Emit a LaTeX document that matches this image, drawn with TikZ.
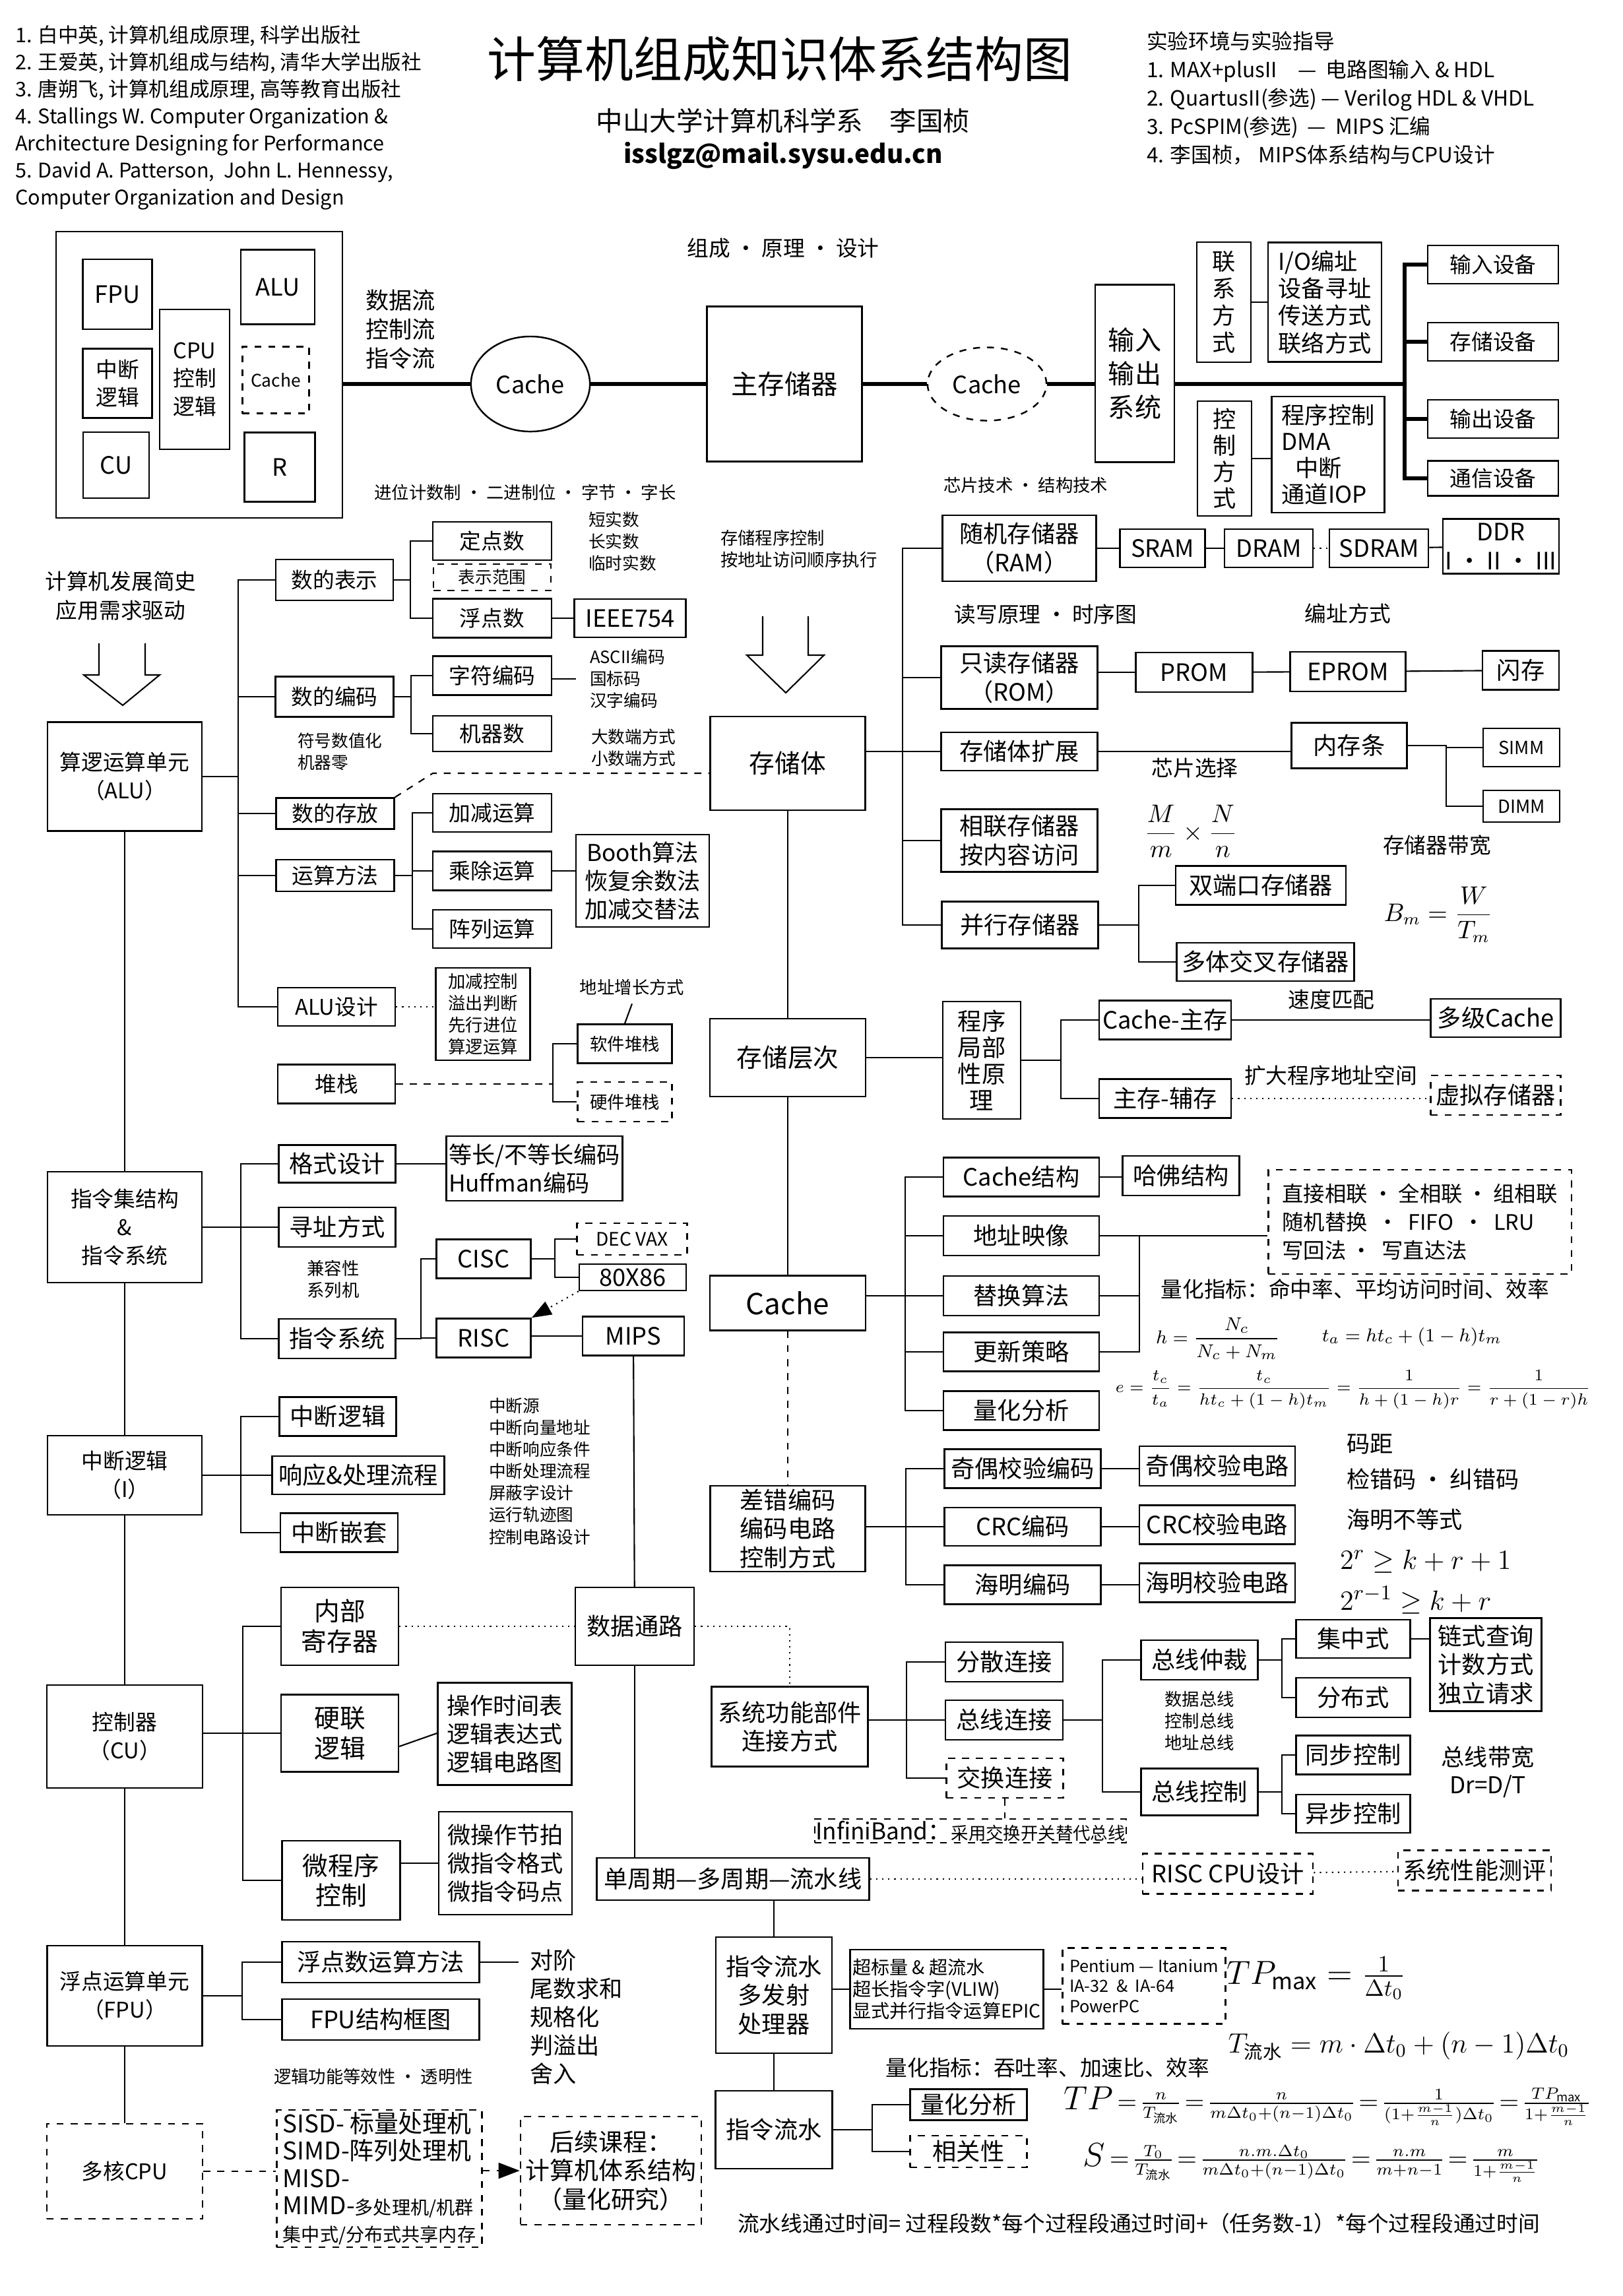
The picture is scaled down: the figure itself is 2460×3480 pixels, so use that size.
\documentclass[tikz,border=0pt]{standalone}
\usepackage{amsmath,amssymb}
\usepackage{fontspec}
\setmainfont{Noto Sans CJK SC}
\usetikzlibrary{shapes.geometric, arrows.meta}

\begin{document}
\begin{tikzpicture}[x=0.01cm, y=-0.01cm, line width=0.6pt,
    box/.style={draw, line width=0.7pt, align=center, inner sep=1pt, font=\fontsize{9.3}{12.2}\selectfont},
    dbox/.style={box, dashed},
    wd/.style={minimum width=#1cm},
    ht/.style={minimum height=#1cm},
    lbl/.style={align=center, inner sep=0pt, font=\fontsize{9.3}{12.2}\selectfont},
    note/.style={align=left, inner sep=0pt, font=\fontsize{7.3}{9.4}\selectfont},
    big/.style={font=\fontsize{10.3}{12.4}\selectfont},
    bus/.style={line width=1.8pt}]
\useasboundingbox (0,0) rectangle (2460,3480);

% header
\node[note, anchor=north west, font=\fontsize{8.7}{11.7}\selectfont] (refs) at (22,37)
    {1. 白中英, 计算机组成原理, 科学出版社\\2. 王爱英, 计算机组成与结构, 清华大学出版社\\3. 唐朔飞, 计算机组成原理, 高等教育出版社\\4. Stallings W. Computer Organization \&\\Architecture Designing for Performance\\5. David A. Patterson,\ \ John L. Hennessy,\\Computer Organization and Design};
\node[lbl, font=\fontsize{21}{24}\selectfont] (title) at (1182,89) {计算机组成知识体系结构图};
\node[lbl, font=\fontsize{11.5}{14}\selectfont] (school) at (1187,183) {中山大学计算机科学系\quad 李国桢};
\node[lbl, font=\fontsize{11}{14}\selectfont\bfseries] (mail) at (1187,236) {isslgz@mail.sysu.edu.cn};
\node[note, anchor=north west, font=\fontsize{9}{12.2}\selectfont] (lab) at (1737,47)
    {实验环境与实验指导\\1. MAX+plusII\quad — \ 电路图输入 \& HDL\\2. QuartusII(参选) — Verilog HDL \& VHDL\\3. PcSPIM(参选)\ \ — \ MIPS 汇编\\4. 李国桢，\ MIPS体系结构与CPU设计};
\node[lbl] (design) at (1187,376) {组成 • 原理 • 设计};

% CPU block and bus
\node[box, wd=4.34, ht=4.34] (cpu) at (302,568) {};
\node[box, wd=1.05, ht=1.06, big] (fpu0) at (178,446) {FPU};
\node[box, wd=1.05, ht=1.05] (intl0) at (178,581) {中断\\逻辑};
\node[box, wd=1.0, ht=1.0, big] (cu0) at (176,705) {CU};
\node[box, wd=1.06, ht=2.12] (ctl0) at (295,575) {CPU\\控制\\逻辑};
\node[box, wd=1.12, ht=1.13, big] (alu0) at (421,435) {ALU};
\node[dbox, wd=1.01, ht=1.01, font=\fontsize{7.5}{9}\selectfont] (cache0) at (418,576) {Cache};
\node[box, wd=1.07, ht=1.05, big] (reg0) at (424,708) {R};
\node[lbl, font=\fontsize{10}{12.5}\selectfont] (flows) at (607,499) {数据流\\控制流\\指令流};
\node[draw, ellipse, line width=0.7pt, wd=1.78, ht=1.44, big] (cachea) at (804,582) {Cache};
\node[box, wd=2.35, ht=2.35, font=\fontsize{11.5}{14}\selectfont] (mainmem) at (1189,582) {主存储器};
\node[draw, dashed, ellipse, line width=0.7pt, wd=1.41, ht=1.11, big] (cacheb) at (1496,582) {Cache};
\node[box, wd=1.2, ht=2.69, font=\fontsize{11.4}{14.5}\selectfont] (iosys) at (1720,566) {输入\\输出\\系统};
\node[box, wd=0.82, ht=1.82, font=\fontsize{10}{11.7}\selectfont] (lianxi) at (1855,458) {联\\系\\方\\式};
\node[box, wd=1.72, ht=1.81, align=left, font=\fontsize{10}{11.7}\selectfont] (ioaddr) at (2008,458) {I/O编址\\设备寻址\\传送方式\\联络方式};
\node[box, wd=0.82, ht=1.74, font=\fontsize{10}{11.4}\selectfont] (kongzhi) at (1856,695) {控\\制\\方\\式};
\node[box, wd=1.71, ht=1.76, align=left, font=\fontsize{10}{11.4}\selectfont] (prog) at (2013,689) {程序控制\\DMA\\\hspace{0.6em}中断\\通道IOP};
\node[box, wd=1.98, ht=0.58] (dev1) at (2263,401) {输入设备};
\node[box, wd=1.98, ht=0.58] (dev2) at (2263,518) {存储设备};
\node[box, wd=1.98, ht=0.58] (dev3) at (2263,635) {输出设备};
\node[box, wd=1.98, ht=0.53] (dev4) at (2263,725) {通信设备};
\coordinate (iot) at (2129,582);
\draw[bus] (cpu.east |- cachea.west) -- (cachea.west);
\draw[bus] (cachea) -- (mainmem);
\draw[bus] (mainmem) -- (cacheb);
\draw[bus] (cacheb.east) -- (cacheb.east -| iosys.west);
\draw[bus] (iosys.east |- iot) -- (iot);
\foreach \nm in {dev1,dev2,dev3,dev4} \draw[bus] (iot) |- (\nm.west);
\draw (lianxi) -- (ioaddr);
\draw (kongzhi.east) -- (kongzhi.east -| prog.west);

% left column: main units
\node[lbl, font=\fontsize{9.3}{12.5}\selectfont] (hist) at (183,903) {计算机发展简史\\应用需求驱动};
\draw (150,975) -- (150,1023) -- (127,1023) -- (186,1069) -- (242,1023) -- (220,1023) -- (220,975);
\node[box, wd=2.34, ht=1.65] (alu) at (189,1177) {算逻运算单元\\（ALU）};
\node[box, wd=2.34, ht=1.68] (isa) at (189,1860) {指令集结构\\\&\\指令系统};
\node[box, wd=2.34, ht=1.20] (intr) at (189,2236) {中断逻辑\\（I）};
\node[box, wd=2.36, ht=1.56] (cu) at (189,2632) {控制器\\（CU）};
\node[box, wd=2.35, ht=1.52] (fpu) at (189,3025) {浮点运算单元\\（FPU）};
\node[dbox, wd=2.36, ht=1.44] (mcore) at (189,3291) {多核CPU};
\draw (alu) -- (isa) -- (intr) -- (cu) -- (fpu) -- (mcore);

% ALU branch
\node[note, font=\fontsize{7.5}{9.4}\selectfont] (radix) at (796,746) {进位计数制 • 二进制位 • 字节 • 字长};
\node[box, wd=1.78, ht=0.62] (nrep) at (507,879) {数的表示};
\node[box, wd=1.79, ht=0.61] (ncode) at (507,1056) {数的编码};
\node[box, wd=1.79, ht=0.47] (nstore) at (508,1233) {数的存放};
\node[box, wd=1.79, ht=0.48] (nmeth) at (508,1327) {运算方法};
\node[box, wd=1.78, ht=0.58] (aludes) at (510,1526) {ALU设计};
\node[box, wd=1.78, ht=0.59] (stack) at (510,1643) {堆栈};
\node[note, anchor=west] (signz) at (450,1139) {符号数值化\\机器零};
\node[box, wd=1.80, ht=0.58] (fixp) at (746,820) {定点数};
\node[dbox, wd=1.78, ht=0.40, font=\fontsize{7.3}{9}\selectfont] (range) at (746,875) {表示范围};
\node[box, wd=1.80, ht=0.59] (flp) at (746,937) {浮点数};
\node[box, wd=1.69, ht=0.58, big] (ieee) at (955,937) {IEEE754};
\node[note, anchor=west] (reals) at (891,821) {短实数\\长实数\\临时实数};
\node[box, wd=1.80, ht=0.59] (chcode) at (746,1024) {字符编码};
\node[box, wd=1.80, ht=0.54] (machn) at (746,1112) {机器数};
\node[note, anchor=west] (ascii) at (893,1029) {ASCII编码\\国标码\\汉字编码};
\node[note, anchor=west] (endian) at (895,1133) {大数端方式\\小数端方式};
\node[box, wd=1.80, ht=0.58] (addsub) at (746,1232) {加减运算};
\node[box, wd=1.80, ht=0.59] (muldiv) at (746,1320) {乘除运算};
\node[box, wd=1.80, ht=0.58] (array) at (746,1408) {阵列运算};
\node[box, wd=2.02, ht=1.40, font=\fontsize{10}{12.2}\selectfont] (booth) at (974,1335) {Booth算法\\恢复余数法\\加减交替法};
\node[box, wd=1.43, ht=1.40, font=\fontsize{7.5}{9.4}\selectfont] (aluctl) at (732,1537) {加减控制\\溢出判断\\先行进位\\算逻运算};
\node[note, font=\fontsize{7.5}{9.4}\selectfont] (addrgrow) at (958,1496) {地址增长方式};
\node[box, wd=1.43, ht=0.59, font=\fontsize{7.5}{9.4}\selectfont] (swstack) at (947,1582) {软件堆栈};
\node[dbox, wd=1.43, ht=0.60, font=\fontsize{7.5}{9.4}\selectfont] (hwstack) at (947,1670) {硬件堆栈};
\coordinate (alut) at (361,1177);
\draw (alu.east) -- (alut);
\foreach \nm in {nrep,ncode,nstore,nmeth,aludes} \draw (alut) |- (\nm.west);
\draw (nrep.east) -- ++(25,0) coordinate (j1);
\draw (j1) |- (fixp.west);
\draw (j1) |- (flp.west);
\draw (flp) -- (ieee);
\draw (ncode.east) -- ++(25,0) coordinate (j2);
\draw (j2) |- (chcode.west);
\draw (j2) |- (machn.west);
\draw (chcode.east |- ascii.west) -- ++(36,0);
\draw (nmeth.east) -- ++(26,0) coordinate (j3);
\foreach \nm in {addsub,muldiv,array} \draw (j3) |- (\nm.west);
\draw (muldiv.east) -- (muldiv.east -| booth.west);
\draw[dotted] (aludes.east) -- (aludes.east -| aluctl.west);
\draw (swstack.west) -- ++(-36,0) coordinate (jst) |- (hwstack.west);
\draw[dashed] (stack.east) -- (stack.east -| jst);
\draw (addrgrow.south) ++(0,12) -- (swstack.north);

% memory column
\node[note, anchor=west, font=\fontsize{7.5}{9.4}\selectfont] (stprog) at (1091,832) {存储程序控制\\按地址访问顺序执行};
\draw (1156,934) -- (1156,993) -- (1132,993) -- (1191,1050) -- (1249,993) -- (1225,993) -- (1225,934);
\node[box, wd=2.35, ht=1.42, font=\fontsize{11}{13}\selectfont] (stor) at (1194,1157) {存储体};
\node[box, wd=2.36, ht=1.18, font=\fontsize{11}{13}\selectfont] (hier) at (1194,1603) {存储层次};
\node[box, wd=2.36, ht=0.83, font=\fontsize{12.5}{15}\selectfont] (cachem) at (1194,1975) {Cache};
\node[box, wd=2.35, ht=1.30, font=\fontsize{10.3}{12.4}\selectfont] (ecc) at (1194,2317) {差错编码\\编码电路\\控制方式};
\node[box, wd=2.37, ht=1.21, big] (sysbus) at (1197,2617) {系统功能部件\\连接方式};
\draw (stor) -- (hier) -- (cachem);
\draw[dashed] (cachem) -- (ecc);
\coordinate (dsj) at (656,1172);
\draw[dashed] (nstore.north east) -- (dsj) -- (dsj -| stor.west);

% memory body branch
\node[note, anchor=west, font=\fontsize{7.5}{9.4}\selectfont] (chiptech) at (1429,735) {芯片技术 • 结构技术};
\node[box, wd=2.33, ht=1.00, big] (ram) at (1545,831) {随机存储器\\（RAM）};
\node[box, wd=2.37, ht=0.95, big] (rom) at (1545,1027) {只读存储器\\（ROM）};
\node[box, wd=2.37, ht=0.58, big] (expand) at (1545,1139) {存储体扩展};
\node[box, wd=2.37, ht=0.95, big] (assoc) at (1545,1274) {相联存储器\\按内容访问};
\node[box, wd=2.37, ht=0.71, big] (para) at (1546,1402) {并行存储器};
\coordinate (memt) at (1368,1139);
\draw (stor.east |- expand.west) -- (expand.west);
\foreach \nm in {ram,rom,assoc,para} \draw (memt) |- (\nm.west);
\node[box, wd=1.29, ht=0.58, big] (sram) at (1762,831) {SRAM};
\node[box, wd=1.34, ht=0.58, big] (dram) at (1923,831) {DRAM};
\node[box, wd=1.50, ht=0.58, big] (sdram) at (2090,831) {SDRAM};
\node[box, wd=1.75, ht=0.83, big] (ddr) at (2275,828) {DDR\\I • II • III};
\draw (ram) -- (sram);
\draw (sram) -- (dram);
\draw[dotted] (dram) -- (sdram);
\draw (sdram) -- (ddr);
\node[lbl] (rwp) at (1585,931) {读写原理 • 时序图};
\node[lbl] (addrm) at (2043,930) {编址方式};
\node[box, wd=1.77, ht=0.60, big] (prom) at (1810,1019) {PROM};
\node[box, wd=1.75, ht=0.60, big] (eprom) at (2043,1018) {EPROM};
\node[box, wd=1.16, ht=0.59, big] (flash) at (2305,1016) {闪存};
\draw (rom.east |- prom.west) -- (prom.west);
\draw (prom) -- (eprom);
\draw (eprom) -- (flash);
\node[box, wd=1.75, ht=0.69, big] (dimmbox) at (2045,1130) {内存条};
\node[lbl] (chipsel) at (1811,1164) {芯片选择};
\node[box, wd=1.16, ht=0.58, font=\fontsize{7.8}{9.4}\selectfont] (simm) at (2306,1133) {SIMM};
\node[box, wd=1.16, ht=0.48, font=\fontsize{7.8}{9.4}\selectfont] (dimm) at (2306,1222) {DIMM};
\draw (expand.east) -- (expand.east -| dimmbox.west);
\draw (dimmbox.east) -- ++(58,0) coordinate (jm) |- (simm.west);
\draw (jm) |- (dimm.west);
\node[lbl, font=\fontsize{10.5}{12}\selectfont] (mnform) at (1805,1260) {$\dfrac{M}{m}\times\dfrac{N}{n}$};
\node[lbl] (bwtext) at (2178,1281) {存储器带宽};
\node[lbl, font=\fontsize{10.5}{12}\selectfont] (bmform) at (2180,1386) {$B_m=\dfrac{W}{T_m}$};
\node[box, wd=2.58, ht=0.59, big] (dual) at (1911,1342) {双端口存储器};
\node[box, wd=2.69, ht=0.58, big] (multi) at (1918,1458) {多体交叉存储器};
\draw (para.east) -- ++(60,0) coordinate (jp) |- (dual.west);
\draw (jp) |- (multi.west);

% memory hierarchy branch
\node[box, wd=1.18, ht=1.78, font=\fontsize{10.3}{11.4}\selectfont] (locality) at (1488,1607) {程序\\局部\\性原\\理};
\node[box, wd=2.00, ht=0.59, big] (cm) at (1766,1546) {Cache-主存};
\node[box, wd=2.00, ht=0.59, big] (ma) at (1766,1665) {主存-辅存};
\node[lbl] (speed) at (2018,1515) {速度匹配};
\node[box, wd=1.97, ht=0.58, big] (multic) at (2267,1543) {多级Cache};
\node[lbl] (enlarge) at (2017,1630) {扩大程序地址空间};
\node[dbox, wd=1.97, ht=0.60, big] (vmem) at (2267,1660) {虚拟存储器};
\draw (hier.east) -- (hier.east -| locality.west);
\draw (locality.east) -- ++(60,0) coordinate (jl) |- (cm.west);
\draw (jl) |- (ma.west);
\draw (cm.east) -- (cm.east -| multic.west);
\draw[dotted] (ma.east) -- (ma.east -| vmem.west);

% instruction set branch
\node[box, wd=1.77, ht=0.57, big] (fmt) at (511,1764) {格式设计};
\node[box, wd=1.77, ht=0.60, big] (addrmode) at (511,1860) {寻址方式};
\node[box, wd=1.77, ht=0.60, big] (instsys) at (511,2029) {指令系统};
\node[note, align=center, font=\fontsize{7.5}{9.6}\selectfont] (compat) at (505,1939) {兼容性\\系列机};
\node[box, wd=1.99, ht=0.98, align=left, font=\fontsize{10}{12.2}\selectfont] (huff) at (810,1771) {等长/不等长编码\\Huffman编码};
\node[box, wd=1.43, ht=0.59, big] (cisc) at (733,1908) {CISC};
\node[box, wd=1.43, ht=0.59, big] (risc) at (733,2028) {RISC};
\node[dbox, wd=1.67, ht=0.48, font=\fontsize{8}{9.4}\selectfont] (decvax) at (958,1878) {DEC VAX};
\node[box, wd=1.62, ht=0.40, big] (x86) at (959,1936) {80X86};
\node[box, wd=1.54, ht=0.59, big] (mips) at (960,2025) {MIPS};
\coordinate (isat) at (365,1860);
\draw (isa.east) -- (addrmode.west);
\draw (isat) |- (fmt.west);
\draw (isat) |- (instsys.west);
\draw (fmt.east) -- (fmt.east -| huff.west);
\draw (instsys.east) -- ++(37,0) coordinate (ji) |- (cisc.west);
\draw (ji) |- (risc.west);
\draw (cisc.east) -- ++(35,0) coordinate (jc) |- (decvax.west);
\draw (jc) |- (x86.west);
\draw (risc.east |- mips.west) -- (mips.west);
\draw[dotted, -{Triangle[length=3mm, width=2.2mm]}] (x86.south west) -- (risc.north east);

% interrupt branch
\node[box, wd=1.77, ht=0.59, big] (il) at (512,2147) {中断逻辑};
\node[box, wd=2.61, ht=0.58, big] (resp) at (543,2236) {响应\&处理流程};
\node[box, wd=1.78, ht=0.59, big] (nest) at (514,2323) {中断嵌套};
\node[note, anchor=north west, font=\fontsize{7.3}{9.4}\selectfont] (intlist) at (740,2118) {中断源\\中断向量地址\\中断响应条件\\中断处理流程\\屏蔽字设计\\运行轨迹图\\控制电路设计};
\coordinate (intt) at (365,2236);
\draw (intr.east) -- (resp.west);
\draw (intt) |- (il.west);
\draw (intt) |- (nest.west);

% controller branch
\node[box, wd=1.78, ht=1.18, font=\fontsize{11}{13}\selectfont] (inreg) at (515,2465) {内部\\寄存器};
\node[box, wd=1.78, ht=1.17, font=\fontsize{11}{13}\selectfont] (hard) at (515,2627) {硬联\\逻辑};
\node[box, wd=1.79, ht=1.20, font=\fontsize{11}{13}\selectfont] (micro) at (517,2850) {微程序\\控制};
\node[box, wd=2.03, ht=1.55, font=\fontsize{10}{12.2}\selectfont] (optab) at (765,2628) {操作时间表\\逻辑表达式\\逻辑电路图};
\node[box, wd=2.02, ht=1.56, font=\fontsize{10}{12.2}\selectfont] (microbox) at (766,2824) {微操作节拍\\微指令格式\\微指令码点};
\node[box, wd=1.80, ht=1.18, big] (dp) at (962,2465) {数据通路};
\coordinate (cut) at (368,2627);
\draw (cu.east |- hard.west) -- (hard.west);
\draw (cut) |- (inreg.west);
\draw (cut) |- (micro.west);
\draw (hard.east) ++(0,20) -- (hard.east -| optab.west) ++(0,20);
\draw (microbox.west -| micro.east) -- (microbox.west);
\draw (mips) -- (dp);
\draw[dotted] (inreg.east) -- (dp.west);
\draw[dotted] (dp.east) -| (sysbus.north);

% FPU branch
\node[box, wd=2.99, ht=0.62, big] (fpm) at (577,2974) {浮点数运算方法};
\node[box, wd=2.99, ht=0.62, big] (fpub) at (577,3061) {FPU结构框图};
\node[note, anchor=north west, font=\fontsize{10}{12.2}\selectfont] (steps) at (802,2954) {对阶\\尾数求和\\规格化\\判溢出\\舍入};
\node[note, font=\fontsize{7.5}{9.4}\selectfont] (equiv) at (566,3147) {逻辑功能等效性 • 透明性};
\draw (fpu.east) -- ++(59,0) coordinate (jf) |- (fpm.west);
\draw (jf) |- (fpub.west);
\draw (fpm.east) -- ++(58,0);

% multicore
\node[dbox, wd=3.11, ht=2.04, align=left, font=\fontsize{10.5}{11.7}\selectfont] (flynn) at (575,3302)
    {SISD- 标量处理机\\SIMD-阵列处理机\\MISD-\\MIMD-{\fontsize{8}{9}\selectfont 多处理机/机群}\\{\fontsize{8}{9}\selectfont 集中式/分布式共享内存}};
\node[dbox, wd=2.74, ht=1.64, font=\fontsize{10.5}{12.4}\selectfont] (follow) at (926,3290) {后续课程：\\计算机体系结构\\（量化研究）};
\draw[dashed] (mcore.east) -- (mcore.east -| flynn.west);
\draw[dashed, -{Triangle[length=3.2mm, width=2.4mm]}] (flynn.east |- follow.west) -- (follow.west);

% Cache branch
\node[box, wd=2.36, ht=0.59, big] (cstruct) at (1548,1784) {Cache结构};
\node[box, wd=2.36, ht=0.60, big] (amap) at (1548,1873) {地址映像};
\node[box, wd=2.36, ht=0.60, big] (repl) at (1548,1964) {替换算法};
\node[box, wd=2.36, ht=0.59, big] (upd) at (1548,2049) {更新策略};
\node[box, wd=2.36, ht=0.59, big] (qa) at (1548,2138) {量化分析};
\node[box, wd=1.77, ht=0.60, big] (harvard) at (1790,1782) {哈佛结构};
\node[dbox, wd=4.30, ht=1.46, align=left, inner sep=6pt, font=\fontsize{9.2}{12.2}\selectfont] (mapbox) at (2152,1852)
    {直接相联 • 全相联 • 组相联\\随机替换\ \ • \ FIFO \ • \ LRU\\写回法 • \ 写直达法};
\coordinate (ct) at (1372,1964);
\draw (cachem.east |- ct) -- (repl.west);
\foreach \nm in {cstruct,amap,upd,qa} \draw (ct) |- (\nm.west);
\draw (cstruct.east) -- (cstruct.east -| harvard.west);
\draw (amap.east) -- ++(60,0) coordinate (ja) -- (ja -| mapbox.west);
\draw (ja) |- (repl.east);
\draw (ja) |- (upd.east);
\node[lbl] (qmetric) at (2054,1954) {量化指标：命中率、平均访问时间、效率};
\node[lbl, font=\fontsize{8}{10}\selectfont] (hform) at (1846,2029) {$h=\dfrac{N_c}{N_c+N_m}$};
\node[lbl, font=\fontsize{8}{10}\selectfont] (taform) at (2140,2026) {$t_a=ht_c+(1-h)t_m$};
\node[lbl, font=\fontsize{7.5}{10}\selectfont] (eform) at (2051,2106) {$e=\dfrac{t_c}{t_a}=\dfrac{t_c}{ht_c+(1-h)t_m}=\dfrac{1}{h+(1-h)r}=\dfrac{1}{r+(1-r)h}$};

% error correction branch
\node[box, wd=2.37, ht=0.59, big] (parity) at (1550,2226) {奇偶校验编码};
\node[box, wd=2.37, ht=0.58, big] (crc) at (1550,2314) {CRC编码};
\node[box, wd=2.37, ht=0.59, big] (ham) at (1550,2402) {海明编码};
\node[box, wd=2.36, ht=0.60, big] (pc) at (1845,2222) {奇偶校验电路};
\node[box, wd=2.36, ht=0.59, big] (crcc) at (1845,2311) {CRC校验电路};
\node[box, wd=2.36, ht=0.59, big] (hamc) at (1845,2399) {海明校验电路};
\coordinate (et) at (1373,2314);
\draw (ecc.east |- crc.west) -- (crc.west);
\draw (et) |- (parity.west);
\draw (et) |- (ham.west);
\draw (parity.east) -- (parity.east -| pc.west);
\draw (crc.east) -- (crc.east -| crcc.west);
\draw (ham.east) -- (ham.east -| hamc.west);
\node[note, anchor=west, font=\fontsize{10}{12}\selectfont] (hd) at (2040,2189) {码距};
\node[note, anchor=west, font=\fontsize{10}{12}\selectfont] (ed) at (2040,2242) {检错码 • 纠错码};
\node[note, anchor=west, font=\fontsize{10}{12}\selectfont] (hineq) at (2040,2303) {海明不等式};
\node[note, anchor=west, font=\fontsize{12.5}{14}\selectfont] (ineq1) at (2030,2367) {$2^r\geq k+r+1$};
\node[note, anchor=west, font=\fontsize{12.5}{14}\selectfont] (ineq2) at (2030,2425) {$2^{r-1}\geq k+r$};

% bus branch
\node[box, wd=1.78, ht=0.60, big] (scat) at (1522,2519) {分散连接};
\node[box, wd=1.78, ht=0.60, big] (busc) at (1522,2607) {总线连接};
\node[dbox, wd=1.77, ht=0.60, big] (swc) at (1523,2695) {交换连接};
\node[dbox, wd=4.72, ht=0.36, inner sep=0pt, font=\fontsize{10}{11}\selectfont] (infini) at (1471,2775) {InfiniBand：{\fontsize{7.5}{9}\selectfont 采用交换开关替代总线}};
\node[box, wd=1.77, ht=0.60, big] (arb) at (1818,2516) {总线仲裁};
\node[box, wd=1.77, ht=0.71, big] (bctl) at (1818,2716) {总线控制};
\node[note, align=center, font=\fontsize{7.5}{9.4}\selectfont] (bustypes) at (1818,2608) {数据总线\\控制总线\\地址总线};
\node[box, wd=1.73, ht=0.58, big] (central) at (2051,2484) {集中式};
\node[box, wd=1.73, ht=0.60, big] (distr) at (2051,2573) {分布式};
\node[box, wd=1.69, ht=1.41, big] (chainq) at (2252,2523) {链式查询\\计数方式\\独立请求};
\node[box, wd=1.73, ht=0.59, big] (sync) at (2051,2660) {同步控制};
\node[box, wd=1.73, ht=0.58, big] (async) at (2051,2749) {异步控制};
\node[lbl, font=\fontsize{10}{12}\selectfont] (busbw) at (2255,2686) {总线带宽\\Dr=D/T};
\coordinate (bt) at (1374,2607);
\draw (sysbus.east |- bt) -- (busc.west);
\draw (bt) |- (scat.west);
\draw (bt) |- (swc.west);
\draw[dashed] (swc.south) -- (swc.south |- infini.north);
\draw (busc.east) -- ++(59,0) coordinate (jb) |- (arb.west);
\draw (jb) |- (bctl.west);
\draw (arb.east) -- ++(35,0) coordinate (jr) |- (central.west);
\draw (jr) |- (distr.west);
\draw (central.east) -- (central.east -| chainq.west);
\draw (bctl.east) -- ++(35,0) coordinate (jt) |- (sync.west);
\draw (jt) |- (async.west);

% pipeline
\node[box, wd=4.13, ht=0.64, big] (pipe3) at (1111,2848) {单周期—多周期—流水线};
\node[dbox, wd=2.58, ht=0.61, big] (risccpu) at (1861,2840) {RISC CPU设计};
\node[dbox, wd=2.32, ht=0.61, big] (perf) at (2235,2835) {系统性能测评};
\draw (dp) -- (dp |- pipe3.north);
\draw[dotted] (pipe3.east) -- (pipe3.east -| risccpu.west);
\draw[dotted] (risccpu) -- (perf);
\node[box, wd=1.76, ht=1.76, big] (mip) at (1173,3024) {指令流水\\多发射\\处理器};
\node[box, wd=1.77, ht=1.18, big] (pipe) at (1173,3228) {指令流水};
\node[box, wd=2.87, ht=1.20, align=left, font=\fontsize{8}{9.4}\selectfont] (superbox) at (1435,3015) {超标量 \& 超流水\\超长指令字(VLIW)\\显式并行指令运算EPIC};
\node[dbox, wd=2.37, ht=1.15, align=left, inner sep=3pt, font=\fontsize{7.2}{8.7}\selectfont] (pent) at (1734,3010) {Pentium — Itanium\\IA-32\ \ \&\ \ IA-64\\PowerPC};
\draw (mip.north |- pipe3.south) -- (mip);
\draw (mip) -- (pipe);
\draw (mip.east |- superbox.west) -- (superbox.west);
\draw (superbox.east) -- (superbox.east -| pent.west);
\node[box, wd=1.77, ht=0.47, big] (qana) at (1468,3190) {量化分析};
\node[dbox, wd=1.77, ht=0.48, big] (corr) at (1468,3261) {相关性};
\draw (pipe.east) -- ++(59,0) coordinate (jq) |- (qana.west);
\draw (jq) |- (corr.west);
\node[lbl, font=\fontsize{14}{15}\selectfont] (tpmax) at (1995,2998) {$TP_{\max}=\frac{1}{\Delta t_0}$};
\node[lbl, font=\fontsize{11.5}{13}\selectfont] (tflow) at (2120,3101) {$T_{\text{流水}}=m\cdot\Delta t_0+(n-1)\Delta t_0$};
\node[lbl] (qm2) at (1588,3134) {量化指标：吞吐率、加速比、效率};
\node[lbl, font=\fontsize{10.5}{12}\selectfont] (tpeq) at (2012,3192) {\thickmuskip=2mu {\fontsize{14}{15}\selectfont$TP$}$\,=\frac{n}{T_{\text{流水}}}=\frac{n}{m\Delta t_0+(n-1)\Delta t_0}=\frac{1}{(1+\frac{m-1}{n})\Delta t_0}=\frac{TP_{\max}}{1+\frac{m-1}{n}}$};
\node[lbl, font=\fontsize{10.5}{12}\selectfont] (speq) at (1988,3278) {\thickmuskip=2mu {\fontsize{14}{15}\selectfont$S$}$\,=\frac{T_0}{T_{\text{流水}}}=\frac{n.m.\Delta t_0}{m\Delta t_0+(n-1)\Delta t_0}=\frac{n.m}{m+n-1}=\frac{m}{1+\frac{m-1}{n}}$};
\node[lbl] (flowtime) at (1726,3370) {流水线通过时间=\ 过程段数*每个过程段通过时间+（任务数-1）*每个过程段通过时间};
\end{tikzpicture}
\end{document}
